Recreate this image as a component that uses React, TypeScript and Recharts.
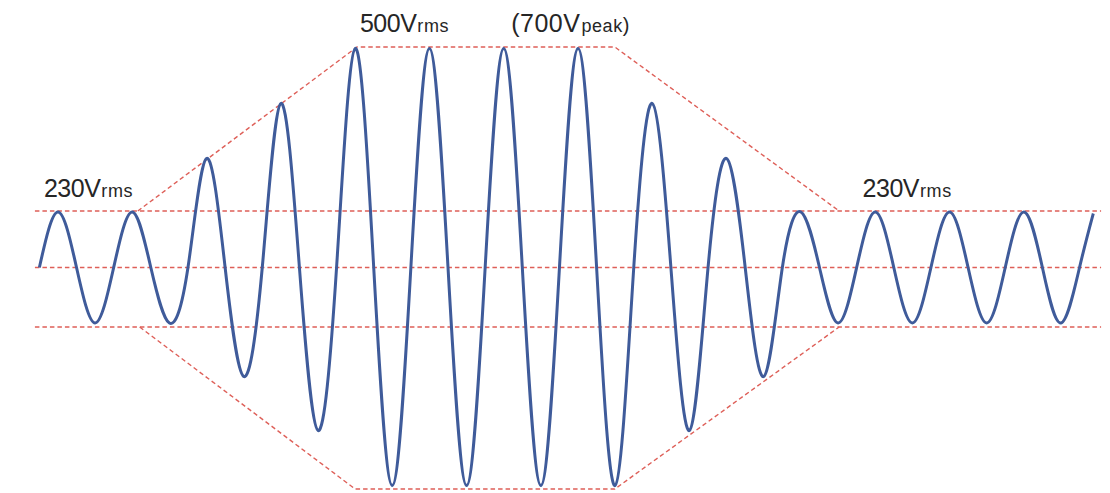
import React from "react";
import { LineChart, Line, XAxis, YAxis, ReferenceLine, ReferenceDot } from "recharts";

// amplitude of each cycle's positive peak and negative trough (arbitrary units)
const peaks = [55.5, 55.5, 109, 164, 219, 219, 219, 219, 164, 109, 55.5, 55.5, 55.5, 55.5];
const troughs = [-55.5, -55.5, -109, -163, -218, -218, -218, -218, -163, -109, -55.5, -55.5, -55.5, -55.5];
const periodMs = 20;
// the trace stops just before the 15th peak
const tail = [{ t: 280, v: 0 }, { t: 283.7, v: 54 }];

// dashed envelope corners (time, level)
const envelopeTop = [
  { t: 26.5, v: 56.5 },
  { t: 85.5, v: 220.5 },
  { t: 154.9, v: 220.5 },
  { t: 215.3, v: 56.5 },
];
const envelopeBottom = [
  { t: 27, v: -59.5 },
  { t: 85, v: -221.5 },
  { t: 154.9, v: -221.5 },
  { t: 215.3, v: -59.5 },
];
const guideLevels = [56.5, 0, -59.5];

const waveform = peaks
  .flatMap((p, i) => [
    { t: i * periodMs, v: 0 },
    { t: i * periodMs + 5, v: p },
    { t: i * periodMs + 10, v: 0 },
    { t: i * periodMs + 15, v: troughs[i] },
  ])
  .concat(tail);

const RED = "#de5f58";
const BLUE = "#3f5b9a";
const FONT = "'Liberation Sans', Arial, Helvetica, sans-serif";

const VoltLabel = ({ viewBox, main, sub, close, spacing = -0.5 }: any) => {
  const { x, y } = viewBox || { x: 0, y: 0 };
  return (
    <text x={x} y={y} fill="#262626" fontFamily={FONT}>
      <tspan fontSize={25} letterSpacing={spacing}>{main}</tspan>
      <tspan fontSize={18} dx={1} letterSpacing={0.6}>{sub}</tspan>
      {close ? <tspan fontSize={20}>{close}</tspan> : null}
    </text>
  );
};

export default function App() {
  return (
    <div style={{ position: "absolute", left: 0, top: 0, width: 1110, height: 493, background: "#fff" }}>
      <LineChart width={1110} height={493} data={waveform} margin={{ top: 0, right: 0, bottom: 0, left: 0 }}>
        <XAxis type="number" dataKey="t" domain={[-10.6, 288.2]} hide allowDataOverflow />
        <YAxis type="number" domain={[-225.5, 267.5]} hide allowDataOverflow />
        {guideLevels.map((lvl) => (
          <ReferenceLine
            key={lvl}
            segment={[{ x: -1.2, y: lvl }, { x: 285.8, y: lvl }]}
            stroke={RED}
            strokeWidth={1.4}
            strokeDasharray="4.5 3"
          />
        ))}
        <Line
          data={envelopeTop}
          dataKey="v"
          type="linear"
          stroke={RED}
          strokeWidth={1.4}
          strokeDasharray="4.5 3"
          dot={false}
          activeDot={false}
          isAnimationActive={false}
        />
        <Line
          data={envelopeBottom}
          dataKey="v"
          type="linear"
          stroke={RED}
          strokeWidth={1.4}
          strokeDasharray="4.5 3"
          dot={false}
          activeDot={false}
          isAnimationActive={false}
        />
        <Line
          dataKey="v"
          type="natural"
          stroke={BLUE}
          strokeWidth={3}
          dot={false}
          activeDot={false}
          isAnimationActive={false}
        />
        <ReferenceDot x={1.24} y={70.8} r={0} stroke="none" fill="none" label={<VoltLabel main="230V" sub="rms" />} />
        <ReferenceDot x={86.3} y={235.8} r={0} stroke="none" fill="none" label={<VoltLabel main="500V" sub="rms" />} />
        <ReferenceDot
          x={127}
          y={235.8}
          r={0}
          stroke="none"
          fill="none"
          label={<VoltLabel main="(700V" sub="peak" close=")" spacing={0.5} />}
        />
        <ReferenceDot x={221.6} y={70.8} r={0} stroke="none" fill="none" label={<VoltLabel main="230V" sub="rms" />} />
      </LineChart>
    </div>
  );
}
